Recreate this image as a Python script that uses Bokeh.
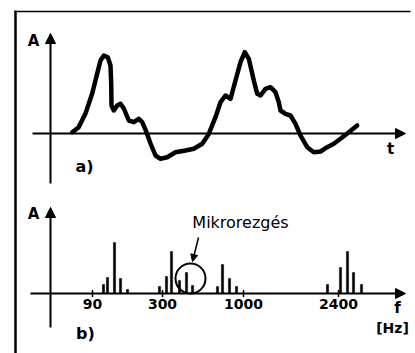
from bokeh.plotting import figure
from bokeh.models import Range1d, Arrow, NormalHead
from bokeh.core.properties import value
from bokeh.embed import file_html
from bokeh.resources import INLINE

# ---- a) time signal (arbitrary units read from picture) ----
t_vals = [2.17, 2.8, 3.5, 4.17, 4.67, 5.0, 5.33, 5.73, 6.0, 6.07, 6.1, 6.33, 6.67, 7.0, 7.33,
          7.83, 8.33, 8.83, 9.17, 9.6, 10.0, 10.5, 11.0, 11.67, 12.5, 13.5, 14.33, 15.17, 15.8,
          16.5, 17.0, 17.5, 18.0, 18.5, 19.0, 19.43, 19.83, 20.33, 20.67, 21.0, 21.5, 22.0,
          22.5, 22.83, 23.0, 23.5, 24.0, 24.5, 25.0, 25.67, 26.33, 27.0, 27.67, 28.33, 29.0,
          29.83, 30.67]
a_vals = [0.13, 0.6, 2.0, 4.0, 6.0, 7.3, 7.8, 7.63, 6.8, 5.0, 2.8, 2.3, 2.8, 2.97, 2.5,
          1.3, 1.13, 1.47, 1.13, 0.13, -1.0, -2.2, -2.53, -2.37, -1.87, -1.7, -1.53, -1.03, -0.1,
          1.63, 3.13, 3.8, 3.47, 5.3, 7.13, 8.13, 7.47, 5.3, 3.97, 3.8, 4.47, 4.63,
          4.13, 3.13, 2.3, 1.97, 1.8, 0.97, -0.2, -1.37, -1.87, -1.8, -1.37, -1.03, -0.53,
          0.13, 0.8]

# ---- b) spectrum (bar position on axis, amplitude) ----
bar_pos = [5.3, 5.7, 6.4, 7.0, 7.7,
           10.9, 11.6, 12.1, 12.9, 13.6, 14.2,
           16.7, 17.2, 17.9, 18.6,
           27.7, 29.0, 29.7, 30.3, 31.1]
bar_amp = [0.9, 1.6, 5.1, 1.5, 0.4,
           0.7, 1.7, 4.2, 1.3, 2.1, 0.8,
           0.7, 2.9, 1.5, 0.7,
           0.9, 2.6, 4.2, 2.1, 0.9]
tick_pos = [4.2, 11.2, 19.3, 28.8]
tick_labels = ["90", "300", "1000", "2400"]

FONT = value("DejaVu Sans")

p = figure(width=415, height=353, output_backend="svg", toolbar_location=None,
           x_range=Range1d(-5.0, 36.5), y_range=Range1d(-22.0, 13.3),
           min_border=0, outline_line_color=None)
p.axis.visible = False
p.grid.visible = False
p.extra_x_ranges = {"f": Range1d(-5.0, 36.5)}
p.extra_y_ranges = {"S": Range1d(-6.0, 29.3)}

# frame (left and top border)
p.segment(x0=[-3.5, -3.5], y0=[-22.0, 12.2], x1=[-3.5, 36.0], y1=[12.3, 12.2],
          line_color="black", line_width=[2.5, 1.5])

def axis_arrow(x0, y0, x1, y1, xr="default", yr="default"):
    p.add_layout(Arrow(end=NormalHead(size=10, fill_color="black", line_color="black"),
                       x_start=x0, y_start=y0, x_end=x1, y_end=y1,
                       line_color="black", line_width=2,
                       x_range_name=xr, y_range_name=yr))

# a) axes
axis_arrow(0, -5.0, 0, 10.0)
axis_arrow(-1.8, 0, 35.5, 0)
p.line(t_vals, a_vals, line_color="black", line_width=4.5, line_join="round", line_cap="round")

p.text(x=[-1.7, 34.0], y=[9.3, -1.5], text=["A", "t"], text_font=FONT, text_font_style="bold",
       text_font_size="15px", text_align="center", text_baseline="middle")
p.text(x=[3.4], y=[-3.3], text=["a)"], text_font=FONT, text_font_style="bold",
       text_font_size="16px", text_align="center", text_baseline="middle")

# b) axes
axis_arrow(0, -3.4, 0, 8.6, "f", "S")
axis_arrow(-2.0, 0, 35.5, 0, "f", "S")
p.segment(x0=tick_pos, y0=[-0.35] * 4, x1=tick_pos, y1=[0.35] * 4, line_color="black",
          line_width=1.5, x_range_name="f", y_range_name="S")
p.vbar(x=bar_pos, top=bar_amp, bottom=0, width=0.22, fill_color="black", line_color="black",
       line_width=0.5, x_range_name="f", y_range_name="S")

p.text(x=tick_pos, y=[-1.0] * 4, text=tick_labels, text_font=FONT, text_font_style="bold",
       text_font_size="14px", text_align="center", text_baseline="middle",
       x_range_name="f", y_range_name="S")
p.text(x=[-1.7, 34.7], y=[8.0, -1.4], text=["A", "f"], text_font=FONT, text_font_style="bold",
       text_font_size="15px", text_align="center", text_baseline="middle",
       x_range_name="f", y_range_name="S")
p.text(x=[34.2], y=[-3.4], text=["[Hz]"], text_font=FONT, text_font_style="bold",
       text_font_size="14px", text_align="center", text_baseline="middle",
       x_range_name="f", y_range_name="S")
p.text(x=[3.5], y=[-4.0], text=["b)"], text_font=FONT, text_font_style="bold",
       text_font_size="16px", text_align="center", text_baseline="middle",
       x_range_name="f", y_range_name="S")

# annotation
p.scatter(x=[14.0], y=[1.5], marker="circle", size=30, fill_color=None, line_color="black",
          line_width=2, x_range_name="f", y_range_name="S")
p.add_layout(Arrow(end=NormalHead(size=7, fill_color="black", line_color="black"),
                   x_start=14.8, y_start=5.6, x_end=14.2, y_end=3.2,
                   line_color="black", line_width=1.5, x_range_name="f", y_range_name="S"))
p.text(x=[19.0], y=[7.1], text=["Mikrorezgés"], text_font=FONT, text_font_size="16px",
       text_align="center", text_baseline="middle", x_range_name="f", y_range_name="S")

open("out.html", "w").write(file_html(p, INLINE))
